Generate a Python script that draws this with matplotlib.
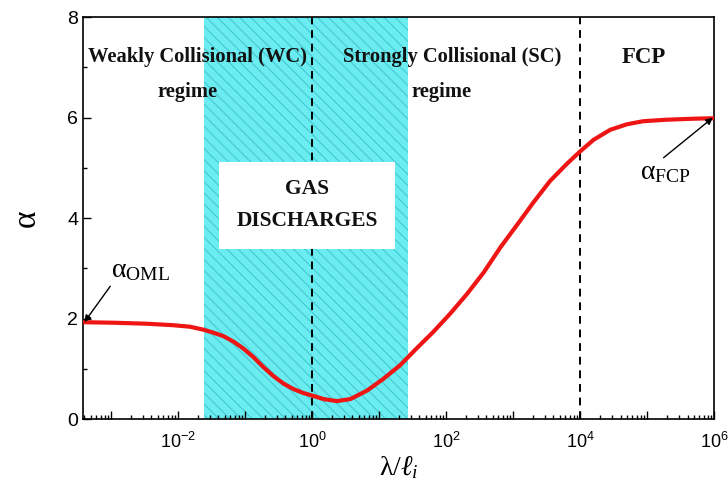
import numpy as np
import matplotlib
matplotlib.use("Agg")
import matplotlib.pyplot as plt
from matplotlib.ticker import FixedLocator, LogLocator, NullFormatter, FuncFormatter

# data (log10 of lambda/l_i, alpha)
log_x = [-3.42, -2.97, -2.47, -2.07, -1.82, -1.62, -1.47, -1.32, -1.17, -1.03, -0.88,
         -0.73, -0.58, -0.43, -0.28, -0.13, 0.0, 0.17, 0.37, 0.57, 0.82, 1.06, 1.31,
         1.56, 1.81, 2.06, 2.31, 2.56, 2.81, 3.06, 3.30, 3.55, 3.80, 4.0, 4.20, 4.45,
         4.70, 4.94, 5.29, 5.69, 6.0]
alpha = [1.93, 1.92, 1.90, 1.87, 1.84, 1.78, 1.72, 1.65, 1.54, 1.41, 1.24,
         1.04, 0.86, 0.71, 0.60, 0.52, 0.47, 0.40, 0.36, 0.40, 0.57, 0.80, 1.07,
         1.41, 1.74, 2.10, 2.49, 2.92, 3.42, 3.87, 4.31, 4.74, 5.08, 5.33, 5.56, 5.76,
         5.87, 5.93, 5.96, 5.98, 5.99]
band = [0.024, 27.0]
vlines = [1.0, 1e4]
x_ticks = [1e-2, 1, 1e2, 1e4, 1e6]
x_ticklabels = [r'$\mathsf{10^{-2}}$', r'$\mathsf{10^{0}}$', r'$\mathsf{10^{2}}$',
                r'$\mathsf{10^{4}}$', r'$\mathsf{10^{6}}$']
y_ticks = [0, 2, 4, 6, 8]

plt.rcParams['font.family'] = ['Liberation Sans', 'DejaVu Sans']
plt.rcParams['mathtext.fontset'] = 'custom'
plt.rcParams['mathtext.rm'] = 'Liberation Serif'
plt.rcParams['mathtext.sf'] = 'Liberation Sans'
plt.rcParams['mathtext.it'] = 'Liberation Serif:italic'
plt.rcParams['axes.unicode_minus'] = False
plt.rcParams['hatch.linewidth'] = 0.8

fig = plt.figure(figsize=(7.28, 4.92), dpi=100)
ax = fig.add_axes([0.114, 0.148, 0.867, 0.817])

xs = 10 ** np.array(log_x)
ax.axvspan(band[0], band[1], facecolor='#6aecf0', edgecolor='#45c9d2', hatch='\\\\\\', linewidth=0, zorder=0)
for v in vlines:
    ax.axvline(v, color='black', linestyle=(0, (4, 3)), linewidth=1.4, zorder=1)
ax.plot(xs, alpha, color='#ee1515', linewidth=3, zorder=3, solid_joinstyle='round', solid_capstyle='round')

ax.set_xscale('log')
ax.set_xlim(10 ** -3.42, 1e6)
ax.set_ylim(0, 8)

ax.xaxis.set_major_locator(FixedLocator([10.0 ** k for k in range(-3, 7)]))
lab = {v: l for v, l in zip(x_ticks, x_ticklabels)}
ax.xaxis.set_major_formatter(FuncFormatter(
    lambda v, p: next((l for k, l in lab.items() if abs(np.log10(v) - np.log10(k)) < 1e-6), '')))
ax.xaxis.set_minor_locator(LogLocator(base=10, subs=np.arange(2, 10), numticks=30))
ax.xaxis.set_minor_formatter(NullFormatter())
ax.set_yticks(y_ticks)
ax.set_yticks([1, 3, 5, 7], minor=True)
ax.tick_params(which='both', direction='in', top=False, right=False, width=1.0)
ax.tick_params(axis='y', labelsize=14)
ax.tick_params(axis='x', labelsize=13, pad=9)
ax.tick_params(which='major', length=6)
ax.tick_params(which='minor', length=3)
for s in ax.spines.values():
    s.set_linewidth(1.2)

ax.set_ylabel('α', fontsize=24, labelpad=18, family='Liberation Serif')
ax.set_xlabel(r'λ/$\ell_i$', fontsize=20, labelpad=2, family='Liberation Serif')

tfont = dict(family='Liberation Serif', fontweight='bold', fontsize=14.8, color='#111111')
ax.text(0.008, 0.901, 'Weakly Collisional (WC)', transform=ax.transAxes, ha='left', va='center', **tfont)
ax.text(0.118, 0.814, 'regime', transform=ax.transAxes, ha='left', va='center', **tfont)
ax.text(0.412, 0.901, 'Strongly Collisional (SC)', transform=ax.transAxes, ha='left', va='center', **tfont)
ax.text(0.521, 0.814, 'regime', transform=ax.transAxes, ha='left', va='center', **tfont)
ax.text(0.888, 0.901, 'FCP', transform=ax.transAxes, ha='center', va='center',
        family='Liberation Serif', fontweight='bold', fontsize=16.5, color='#111111')
ax.text(0.355, 0.532, 'GAS\nDISCHARGES', transform=ax.transAxes, ha='center', va='center',
        family='Liberation Serif', fontweight='bold', fontsize=15.5, linespacing=1.8, color='#111111',
        bbox=dict(boxstyle='square,pad=0.8', facecolor='white', edgecolor='none'), zorder=4)

ax.annotate(r'α$_{\mathrm{OML}}$', xy=(10 ** -3.40, 1.93), xytext=(10 ** -3.0, 2.95),
            fontsize=20, family='Liberation Serif', ha='left', va='center',
            arrowprops=dict(arrowstyle='-|>', color='black', lw=1.0, mutation_scale=10, shrinkA=0, shrinkB=0,
                            relpos=(0.05, 0.1)))
ax.annotate(r'α$_{\mathrm{FCP}}$', xy=(10 ** 5.98, 6.0), xytext=(10 ** 4.9, 4.9),
            fontsize=20, family='Liberation Serif', ha='left', va='center',
            arrowprops=dict(arrowstyle='-|>', color='black', lw=1.0, mutation_scale=10, shrinkA=0, shrinkB=0,
                            relpos=(0.45, 1.1)))

fig.savefig('out.png', dpi=100)
